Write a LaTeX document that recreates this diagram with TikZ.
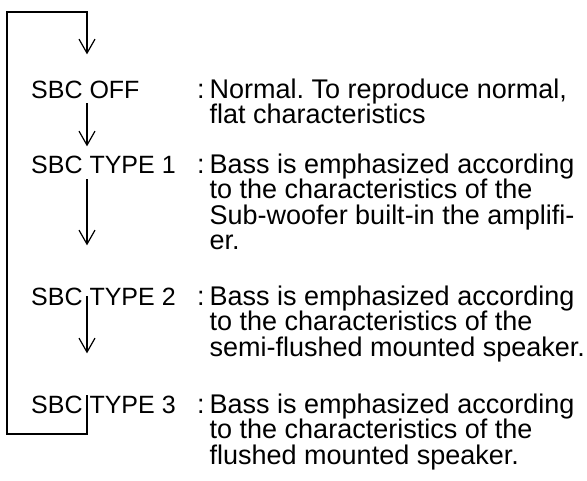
\documentclass[tikz,border=0pt]{standalone}
\usepackage{fontspec}
\setmainfont{Liberation Sans}
\usetikzlibrary{arrows.meta}
\frenchspacing
\newcommand\cln{:\hspace{5pt}}
\newcommand\ind{\phantom{\cln}}
\begin{document}
\begin{tikzpicture}[x=1pt,y=-1pt,
  lab/.style={anchor=base west,inner sep=0pt,font=\fontsize{25}{25}\selectfont},
  desc/.style={anchor=base west,inner sep=0pt,font=\fontsize{27}{27}\selectfont},
  conn/.style={line width=1.2pt},
  arr/.style={conn,-{Straight Barb[length=14pt,width=16pt,line width=1.2pt]}}]
\useasboundingbox (0,0) rectangle (587,480);
\coordinate (ax) at (87,0);
\coordinate (bl) at (7,434);
\coordinate (tl) at (7,12);
% labels
\node[lab] (off) at (31,98) {SBC OFF};
\node[lab] (t1) at (31,173) {SBC TYPE 1};
\node[lab] (t2) at (31,305) {SBC TYPE 2};
\node[lab] (t3) at (31,413) {SBC TYPE 3};
% descriptions
\node[desc] (d1a) at (197,98) {\cln Normal. To reproduce normal,};
\node[desc] (d1b) at (197,123.5) {\ind flat characteristics};
\node[desc] (d2a) at (197,173) {\cln Bass is emphasized according};
\node[desc] (d2b) at (197,198.5) {\ind to the characteristics of the};
\node[desc] (d2c) at (197,224) {\ind Sub-woofer built-in the amplifi-};
\node[desc] (d2d) at (197,249.5) {\ind er.};
\node[desc] (d3a) at (197,305) {\cln Bass is emphasized according};
\node[desc] (d3b) at (197,330.5) {\ind to the characteristics of the};
\node[desc] (d3c) at (197,356) {\ind semi-flushed mounted speaker.};
\node[desc] (d4a) at (197,413) {\cln Bass is emphasized according};
\node[desc] (d4b) at (197,438.5) {\ind to the characteristics of the};
\node[desc] (d4c) at (197,464) {\ind flushed mounted speaker.};
% connectors
\draw[arr] ([yshift=-5pt]off.south -| ax) -- ([yshift=9pt]t1.north -| ax);
\draw[arr] ([yshift=-6pt]t1.south -| ax) -- ([yshift=42pt]t2.north -| ax);
\draw[arr] (t2.center -| ax) -- ([yshift=42pt]t3.north -| ax);
\draw[arr] (t3.north -| ax) |- (bl) -- (tl) -| ([yshift=26pt]off.north -| ax);
\end{tikzpicture}
\end{document}
